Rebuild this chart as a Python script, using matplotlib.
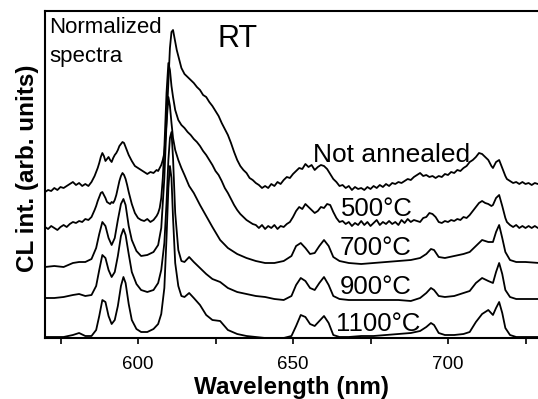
import matplotlib
matplotlib.use("Agg")
import matplotlib.pyplot as plt
from matplotlib.ticker import FixedLocator

plt.rcParams['font.family'] = ['Liberation Sans', 'DejaVu Sans']

# Wavelength grid (nm) shared by the annealed 700/900/1100 spectra
wavelength = [570, 573, 576, 579, 581, 583, 585, 586.5, 587.5, 588.5, 589.5, 590.5,
              591.5, 592.5, 593.5, 594.5, 595.3, 596, 597, 598, 599.5, 601, 603, 605,
              606.5, 607.5, 608.5, 609.2, 609.8, 610.3, 610.8, 611.3, 612, 613, 614,
              615, 616.5, 618, 620, 622, 624, 626.5, 629, 632, 635, 638, 641, 644, 647,
              649.5, 651, 652.5, 654, 655.5, 657, 658.5, 660, 661.5, 663, 665, 668, 672,
              676, 680, 684, 688, 691, 693, 694.5, 695.5, 697, 699, 702, 705, 707, 709,
              711, 713, 714.5, 715.5, 716.5, 717.5, 718.5, 720, 722, 725, 729.5]

# Denser grid for the noisy spectra (not annealed, 500 C)
wavelength_noisy = [570, 571, 572, 573, 574, 575, 576, 577, 578, 579, 580, 581, 582, 583,
                    584, 585, 586, 586.5, 587, 587.5, 588, 588.5, 589, 589.5, 590, 590.5,
                    591, 591.5, 592, 592.5, 593, 593.5, 594, 594.5, 595, 595.5, 596, 596.5,
                    597, 598, 599, 600, 601, 602, 603, 604, 605, 606, 606.5, 607, 607.5,
                    608, 608.5, 609.2, 609.8, 610.3, 610.8, 611.3, 612, 612.5, 613, 614, 615,
                    616, 617, 618, 619, 620, 621, 622, 623, 624, 625, 626, 627, 628, 629,
                    630, 631, 632, 633, 634, 635, 636, 637, 638, 639, 640, 641, 642, 643,
                    644, 645, 646, 647, 648, 649, 650, 651, 652, 653, 654, 655, 656, 657,
                    658, 659, 660, 661, 662, 663, 664, 665, 666, 667, 668, 669, 670, 671,
                    672, 673, 674, 675, 676, 677, 678, 679, 680, 681, 682, 683, 684, 685,
                    686, 687, 688, 689, 690, 691, 692, 693, 694, 695, 696, 697, 698, 699,
                    700, 701, 702, 703, 704, 705, 706, 707, 708, 709, 710, 711, 712, 713,
                    714, 714.5, 715.5, 716.5, 717.5, 718.5, 719, 720, 721, 722, 723, 724,
                    725, 726, 727, 728, 729, 730]

# Normalized CL intensity (arb. units, curves vertically offset as in the figure)
not_annealed = [146, 148, 147, 150, 148, 151, 150, 152, 154, 156, 153, 155, 152, 154,
                152, 156, 162, 166, 170, 175, 181, 185, 182, 177, 179, 181,
                178, 176, 180, 183, 185, 188, 192, 194, 196, 195, 191, 187,
                183, 177, 172, 170, 168, 166, 164, 166, 165, 168, 167, 170, 173,
                178, 185, 215, 255, 290, 306, 308, 296, 288, 282, 270, 264,
                261, 258, 255, 251, 248, 243, 241, 236, 232, 227, 222, 215, 209, 203,
                195, 186, 178, 172, 168, 165, 160, 158, 155, 153, 150, 152, 150, 154,
                152, 156, 154, 158, 161, 160, 164, 167, 170, 169, 174, 171, 173, 168,
                171, 173, 172, 169, 164, 159, 156, 152, 153, 150, 152, 148, 151, 149,
                150, 148, 151, 149, 152, 150, 153, 151, 154, 152, 155, 154, 156, 155,
                157, 159, 158, 161, 163, 165, 162, 163, 161, 162, 160, 162, 161, 164,
                163, 166, 165, 168, 167, 170, 172, 176, 178, 181, 185, 184, 181, 178,
                172, 170, 176, 178, 170, 162, 159, 157, 155, 156, 154, 156,
                154, 155, 153, 155, 154, 155]

t500 = [111, 109, 112, 110, 108, 111, 113, 111, 114, 116, 115, 117, 116, 119,
        118, 121, 128, 132, 137, 141, 145, 146, 143, 140, 136, 135,
        134, 136, 135, 138, 143, 150, 157, 162, 165, 163, 159, 153,
        146, 134, 125, 120, 118, 117, 119, 116, 118, 122, 125, 130, 140,
        160, 190, 245, 275, 268, 252, 241, 228, 223, 218, 213, 210,
        206, 203, 199, 196, 192, 187, 183, 178, 173, 167, 163, 157, 150, 145,
        139, 133, 128, 124, 121, 118, 116, 114, 113, 110, 113, 109, 112, 110,
        113, 109, 112, 111, 114, 116, 121, 127, 131, 129, 134, 131, 128, 125,
        127, 131, 130, 134, 133, 126, 120, 116, 117, 114, 116, 112, 115, 113,
        117, 113, 116, 112, 115, 118, 113, 116, 114, 117, 114, 116, 113, 118,
        115, 119, 116, 118, 117, 116, 120, 121, 125, 124, 121, 116, 115, 117,
        116, 118, 117, 119, 118, 121, 120, 123, 127, 131, 135, 137, 135, 134,
        132, 133, 140, 143, 132, 120, 116, 113, 111, 113, 110, 112,
        110, 112, 110, 112, 110, 111]

t700 = [71, 72, 71, 75, 76, 76, 79, 90, 104, 116, 112, 100,
        93, 100, 118, 134, 139, 133, 112, 98, 87, 82, 83, 86,
        93, 110, 160, 215, 241, 232, 215, 200, 188, 178, 170,
        163, 152, 145, 133, 122, 111, 98, 90, 84, 80, 77, 75, 75, 77,
        82, 92, 95, 90, 84, 85, 92, 98, 92, 81, 77, 75, 74,
        75, 76, 77, 78, 80, 84, 89, 88, 81, 80, 82, 84, 86, 92,
        98, 96, 96, 106, 113, 100, 86, 78, 76, 76, 75]

t900 = [40, 40, 41, 43, 44, 42, 43, 52, 68, 83, 80, 68,
        61, 66, 82, 102, 109, 103, 84, 66, 54, 48, 46, 48,
        55, 68, 95, 135, 178, 200, 206, 180, 125, 88, 77,
        76, 81, 76, 70, 64, 59, 56, 50, 46, 44, 42, 41, 39, 38,
        42, 53, 60, 57, 50, 48, 55, 61, 53, 42, 39, 38, 38,
        38, 38, 38, 37, 40, 45, 50, 48, 42, 41, 42, 45, 47, 55,
        60, 57, 55, 66, 75, 64, 48, 41, 39, 39, 39]

t1100 = [1, 1, 1, 3, 5, 2, 2, 8, 22, 38, 36, 22,
         14, 18, 32, 52, 61, 55, 34, 18, 9, 6, 6, 9,
         14, 24, 50, 100, 150, 172, 160, 120, 75, 52, 42,
         41, 45, 40, 33, 23, 18, 17, 8, 4, 2, 1, 0, 0, 0,
         2, 12, 23, 21, 14, 12, 17, 22, 15, 3, 1, 1, 2,
         2, 3, 4, 5, 7, 11, 15, 13, 5, 3, 3, 4, 6, 16,
         24, 28, 23, 30, 36, 25, 10, 3, 1, 1, 1]

curve_labels = ["Not annealed", "500°C", "700°C", "900°C", "1100°C"]
label_x = [656.5, 665.5, 665.2, 665.2, 663.9]
label_y = [176, 122, 83, 44, 7]
label_size = [19, 18.5, 18.5, 18.5, 18.5]

x_major = [600, 650, 700]
x_minor = [575, 625, 675, 725]

W, H = 538, 399
fig = plt.figure(figsize=(W / 100, H / 100), dpi=100)
ax = fig.add_axes([45 / W, (H - 338) / H, 496 / W, 327 / H])

for xs, s in [(wavelength_noisy, not_annealed), (wavelength_noisy, t500),
              (wavelength, t700), (wavelength, t900), (wavelength, t1100)]:
    ax.plot(xs, s, color='black', lw=1.3, solid_joinstyle='round')

ax.set_xlim(570, 730)
ax.set_ylim(0, 327)

ax.xaxis.set_major_locator(FixedLocator(x_major))
ax.xaxis.set_minor_locator(FixedLocator(x_minor))
ax.tick_params(axis='x', which='major', direction='out', length=4, width=1.2,
               labelsize=13.5, pad=9)
ax.tick_params(axis='x', which='minor', direction='out', length=4, width=1.2)
ax.set_yticks([])
for sp in ax.spines.values():
    sp.set_linewidth(1.5)

for lbl, lx, ly, ls in zip(curve_labels, label_x, label_y, label_size):
    ax.text(lx, ly, lbl, fontsize=ls, ha='left', va='baseline')

ax.text(571.3, 338 - 33, "Normalized", fontsize=16, ha='left', va='baseline')
ax.text(571.3, 338 - 62, "spectra", fontsize=16, ha='left', va='baseline')
ax.text(625.8, 338 - 47, "RT", fontsize=22, ha='left', va='baseline')

fig.text(292 / W, 5 / H, "Wavelength (nm)", fontsize=17.5, fontweight='bold',
         ha='center', va='baseline')
fig.text(28 / W, (H - 168.5) / H, "CL int. (arb. units)", fontsize=17.5,
         fontweight='bold', rotation=90, ha='center', va='center')

fig.savefig("out.png", dpi=100)
